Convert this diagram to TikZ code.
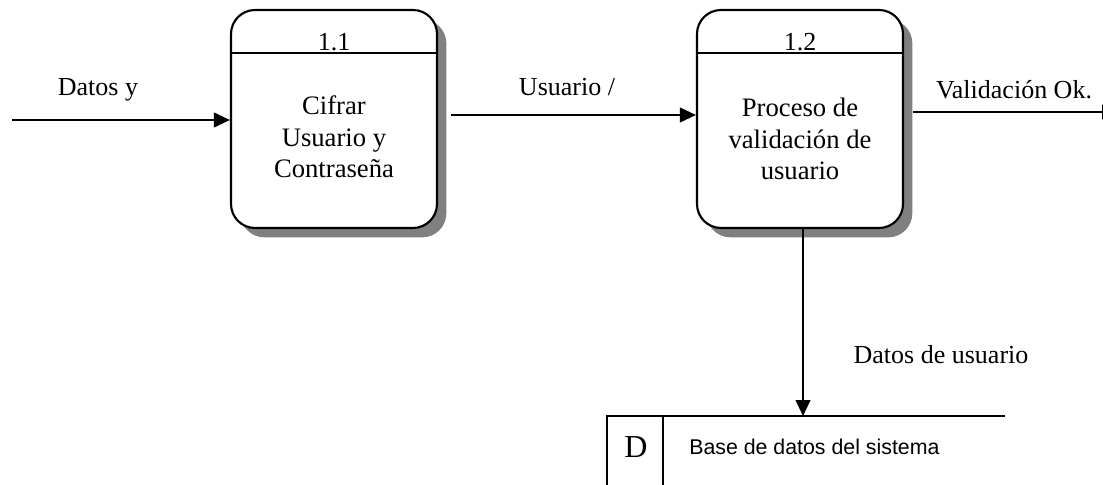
\documentclass[tikz,border=0pt]{standalone}
\usepackage{fontspec}
\setmainfont{Liberation Serif}
\newfontfamily\arialfont{Liberation Sans}
\usetikzlibrary{arrows.meta,shadows}
\begin{document}
\begin{tikzpicture}[x=0.75pt,y=-0.75pt,
  proc/.style={draw,line width=1.6pt,rounded corners=18pt,fill=white,minimum width=206*0.75pt,minimum height=218*0.75pt,
     drop shadow={shadow xshift=7pt,shadow yshift=-7pt,fill=black!50,opacity=1}},
  flow/.style={line width=1.5pt,-{Triangle[length=12pt,width=11pt]}},
  lbl/.style={font=\fontsize{19.5}{22}\selectfont,inner sep=0pt},
  intext/.style={font=\fontsize{20}{23.5}\selectfont,align=center,inner sep=0pt},
  line/.style={line width=1.5pt}]
\useasboundingbox (0,0) rectangle (1103,485);
\clip (0,0) rectangle (1103,485);
% processes
\node[proc] (b1) at (334,119) {};
\node[proc] (b2) at (800,119) {};
\draw[line] ([yshift=-44*0.75pt]b1.north west) -- ([yshift=-44*0.75pt]b1.north east);
\draw[line] ([yshift=-44*0.75pt]b2.north west) -- ([yshift=-44*0.75pt]b2.north east);
\node[lbl] (n1) at (334,42) {1.1};
\node[lbl] (n2) at (800,42) {1.2};
\node[intext] (t1) at (334,137) {Cifrar\\Usuario y\\Contraseña};
\node[intext] (t2) at (800,139) {Proceso de\\validación de\\usuario};
% data store
\coordinate (st) at (607,416);
\coordinate (stR) at (1005,416);
\coordinate (stB) at (607,490);
\coordinate (stD) at (663,416);
\coordinate (stDB) at (663,490);
\draw[line] (stB) -- (st) -- (stR);
\draw[line] (stD) -- (stDB);
\node[font=\fontsize{24}{26}\selectfont,inner sep=0pt] (dd) at (636,447) {D};
\node[font=\arialfont\fontsize{16}{18}\selectfont,inner sep=0pt,anchor=west] (db) at (689,447) {Base de datos del sistema};
% flows
\coordinate (in) at (12,120);
\draw[flow] (in) -- (in -| b1.west);
\draw[flow] ([shift={(13,-4)}]b1.east) -- ([shift={(0,-4)}]b2.west);
\coordinate (outend) at (1118,112);
\draw[flow] ([shift={(9,-7)}]b2.east) -- (outend);
\draw[flow] ([xshift=3*0.75pt]b2.south) -- ([xshift=3*0.75pt]b2.south |- st);
% labels
\node[lbl] (l1) at (98,90) {Datos y};
\node[lbl] (l2) at (567,87) {Usuario /};
\node[lbl] (l3) at (1014,90) {Validación Ok.};
\node[lbl] (l4) at (941,355) {Datos de usuario};
\end{tikzpicture}
\end{document}
